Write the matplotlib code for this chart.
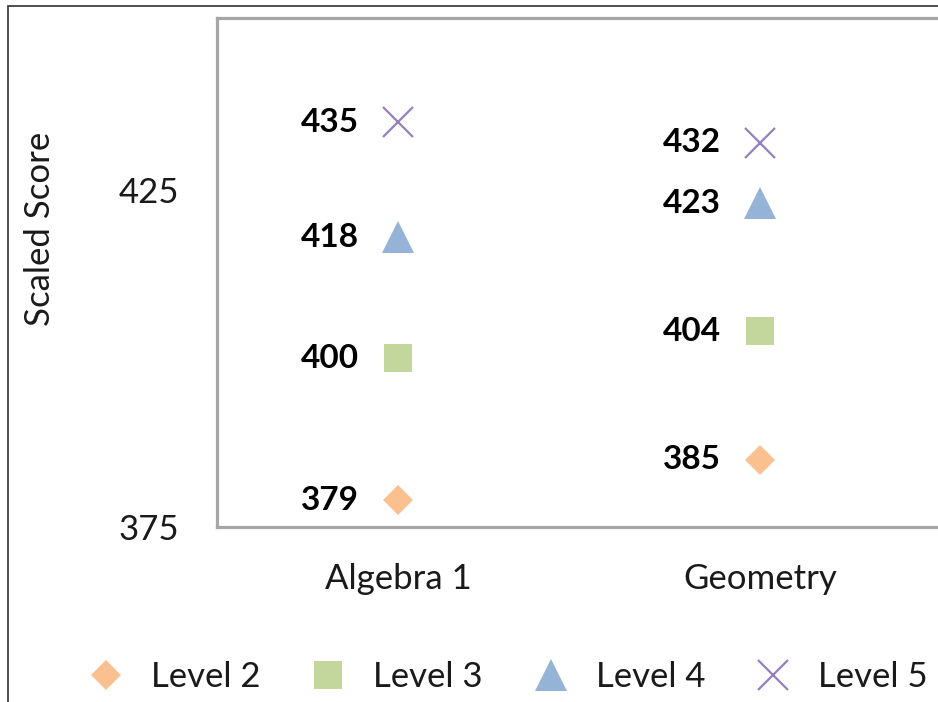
import matplotlib
matplotlib.use("Agg")
import matplotlib.pyplot as plt
from matplotlib.patches import Rectangle

plt.rcParams["font.family"] = ["Lato", "DejaVu Sans"]

# data
subjects = ["Algebra 1", "Geometry"]
levels = ["Level 2", "Level 3", "Level 4", "Level 5"]
level2 = [379, 385]
level3 = [400, 404]
level4 = [418, 423]
level5 = [435, 432]
y_ticks = [375, 425]

STYLE = {
    "Level 2": dict(marker="D", ms=15.5, color="#FAC090", mew=0),
    "Level 3": dict(marker="s", ms=20, color="#C3D69B", mew=0),
    "Level 4": dict(marker="^", ms=23, color="#95B3D7", mew=0),
    "Level 5": dict(marker="x", ms=21, color="#9580BC", mew=1.6),
}

W, H = 938, 702
fig = plt.figure(figsize=(W / 100, H / 100), dpi=100)

# outer chart-area border (cropped on right and bottom)
fig.patches.append(Rectangle((8 / W, -0.1), 1.2, (H - 6) / H + 0.1,
                             transform=fig.transFigure, fill=False,
                             ec="#404040", lw=1.3))

ax = fig.add_axes([217 / W, 175 / H, 724 / W, 509 / H])
xs = [1, 2]
for name, vals in zip(levels, [level2, level3, level4, level5]):
    st = STYLE[name]
    ax.plot(xs, vals, ls="none", label=name, marker=st["marker"],
            markersize=st["ms"], color=st["color"], mew=st["mew"],
            clip_on=False)
    for x, v in zip(xs, vals):
        ax.annotate(str(v), (x, v), textcoords="offset points",
                    xytext=(-28, 0), ha="right", va="center",
                    fontsize=24, fontweight="bold", color="black")

ax.set_xlim(0.5, 2.5)
ax.set_ylim(375, 450.5)
ax.set_xticks(xs)
ax.set_xticklabels(subjects)
ax.set_yticks(y_ticks)
ax.tick_params(axis="both", length=0, labelsize=25, colors="#1a1a1a")
ax.tick_params(axis="y", pad=27)
ax.tick_params(axis="x", pad=26)
for s in ax.spines.values():
    s.set_color("#a6a6a6")
    s.set_linewidth(2.3)

fig.text(40 / W, 1 - 229 / H, "Scaled Score", rotation=90, ha="center",
         va="center", fontsize=25, color="#1a1a1a")

fig.legend(loc="center", bbox_to_anchor=(508 / W, 1 - 677 / H), ncol=4,
           frameon=False, fontsize=25, handlelength=1.0, handletextpad=0.8,
           columnspacing=1.45, labelcolor="#1a1a1a")

fig.savefig("out.png", dpi=100)
